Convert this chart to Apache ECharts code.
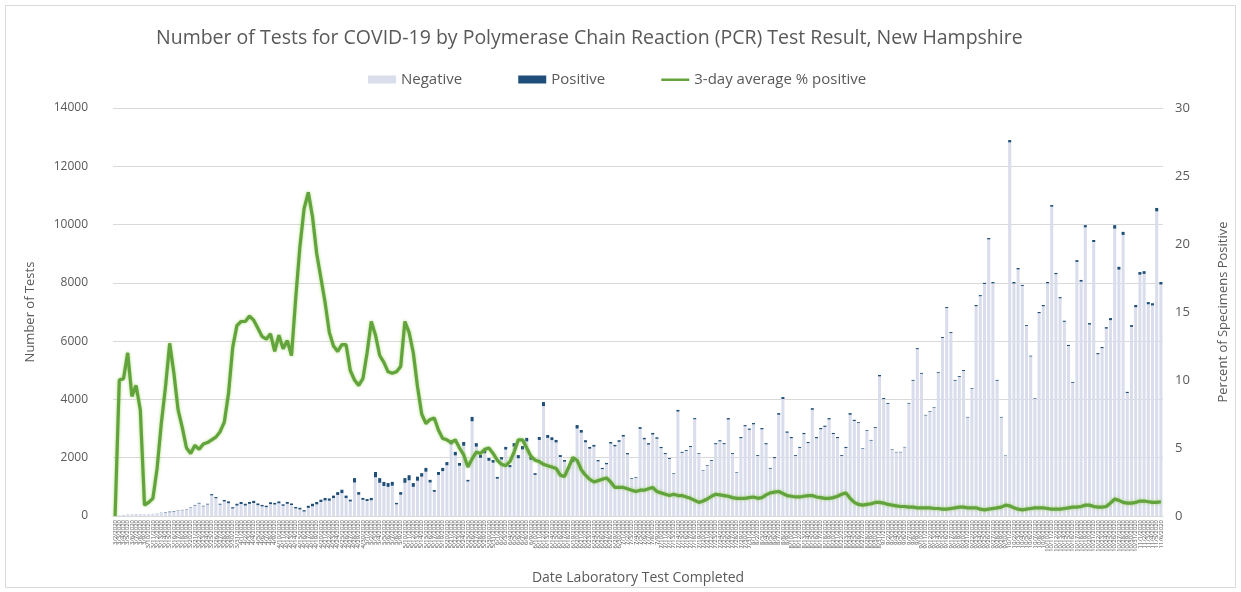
<!DOCTYPE html>
<html>
<head>
<meta charset="utf-8">
<script src="https://cdn.jsdelivr.net/npm/echarts@6/dist/echarts.min.js"></script>
<style>html,body{margin:0;padding:0;background:#fff;}#c{width:1241px;height:592px;}</style>
</head>
<body>
<div id="c"></div>
<script>
// Categories: one per day starting 3/2/2020
const startDate = new Date(2020, 2, 2);
const dayCount = 250;
const categories = [];
for (let i = 0; i < dayCount; i++) {
  const d = new Date(startDate.getTime());
  d.setDate(d.getDate() + i);
  categories.push((d.getMonth() + 1) + '/' + d.getDate() + '/' + d.getFullYear());
}

// Total PCR tests per day (negative + positive)
const totalTests = [
  10,15,30,40,45,50,55,60,70,80,90,110,130,150,170,190,210,230,300,380,
  450,350,420,750,650,420,550,500,300,420,480,
  420,480,520,430,380,350,470,450,500,400,480,430,310,280,200,350,420,480,560,620,
  600,700,820,900,700,560,1300,820,620,580,620,1510,1300,1170,1130,1170,450,820,1300,1400,
  1130,1350,1470,1650,1240,890,1510,1650,1850,2600,
  2200,1820,2540,1240,3400,2500,2100,2260,1990,1920,
  1340,2020,2370,1750,2500,2090,2400,2680,2020,1470,
  2710,3910,2780,2700,2610,2090,1920,1680,1920,3120,
  2950,2600,2370,2440,1920,1650,1820,2540,2440,2600,
  2780,2160,1300,1340,3050,2680,2500,2850,2700,2370,
  2160,1990,1470,3640,2200,2260,2400,3360,2160,1580,
  1750,1920,2500,2600,2500,3360,2160,1510,2710,3120,
  3000,3190,2090,3020,2500,1650,2020,3530,4080,2900,
  2710,2090,2370,2850,2540,
  3700,2710,3020,3100,3360,2850,2710,2090,2370,3530,
  3300,3220,2330,2950,2610,3050,4840,4050,3880,2300,
  2200,2200,2370,3880,4670,5760,4910,3470,3600,3740,
  4940,6140,7170,6310,4670,4800,5010,3400,4390,7240,
  7580,8000,9540,8030,4670,3400,2090,12900,8030,8510,
  7930,6550,5500,4050,7000,7240,8030,10670,8340,7510,
  6700,5870,4600,8780,8100,9980,6620,9470,5590,5800,
  6480,6790,9980,8550,9750,4260,6550,7240,8370,8400,
  7340,7300,10570,8030
];

// Positive PCR tests per day
const positiveTests = [
  0,2,3,5,4,5,4,0,1,1,3,8,14,20,18,12,10,11,14,19,
  23,18,24,42,40,30,50,60,42,60,68,
  60,62,75,58,50,45,62,55,64,50,62,52,50,55,45,70,85,80,80,85,
  75,85,100,115,85,60,150,90,65,65,80,180,160,140,130,130,50,90,160,175,
  130,140,120,130,90,60,100,110,110,140,
  120,95,130,55,150,120,100,105,95,90,
  60,80,90,75,120,110,115,120,90,60,
  100,140,100,95,85,65,55,55,70,120,
  90,70,60,60,45,40,45,55,50,55,
  55,45,25,25,60,50,50,55,50,40,
  35,30,22,55,32,30,32,40,25,18,
  22,28,38,38,36,50,30,20,38,40,
  42,45,30,45,40,28,35,55,65,45,
  40,30,34,40,38,
  55,40,42,42,45,38,38,30,38,55,
  40,28,20,25,24,30,48,38,32,18,
  16,15,16,25,30,35,30,20,21,20,
  27,32,36,34,28,30,32,20,24,42,
  38,38,48,44,30,22,14,80,50,48,
  36,30,26,22,40,42,44,56,42,40,
  38,36,30,60,58,75,50,68,40,40,
  50,70,120,95,105,40,60,75,90,92,
  75,72,115,85
];

// 3-day average % positive
const pctPositive3Day = [
  0,10.0,10.1,12.0,8.8,9.6,7.8,0.8,1.0,1.3,3.5,6.8,9.5,12.7,10.5,7.8,6.5,5.0,4.6,5.2,
  4.9,5.3,5.4,5.6,5.8,6.2,6.9,9.0,12.4,14.0,14.3,14.3,14.7,14.4,13.8,13.2,13.0,13.4,12.1,13.3,
  12.3,12.9,11.8,16.0,19.8,22.6,23.8,22.0,19.3,17.5,15.7,13.5,12.5,12.1,12.6,12.6,10.7,10.0,9.6,10.1,
  12.0,14.3,13.3,11.8,11.3,10.6,10.5,10.6,11.0,14.3,13.5,12.0,9.5,7.5,6.8,7.1,7.2,6.3,5.7,5.6,
  5.4,5.6,5.0,4.5,3.6,4.2,4.7,4.6,4.9,5.0,4.6,4.1,3.8,3.7,4.0,4.7,5.6,5.6,5.0,4.4,
  4.1,4.0,3.8,3.7,3.6,3.5,3.0,2.9,3.6,4.3,4.1,3.4,3.0,2.7,2.5,2.6,2.7,2.8,2.5,2.1,
  2.1,2.1,2.0,1.9,1.8,1.9,1.9,2.0,2.1,1.8,1.7,1.6,1.5,1.6,1.5,1.5,1.4,1.3,1.15,1.0,
  1.1,1.25,1.45,1.6,1.55,1.5,1.45,1.35,1.3,1.3,1.3,1.35,1.4,1.3,1.35,1.55,1.7,1.75,1.8,1.65,
  1.5,1.45,1.4,1.4,1.45,1.5,1.5,1.4,1.35,1.3,1.3,1.35,1.45,1.6,1.7,1.3,1.0,0.85,0.8,0.85,
  0.9,1.0,1.0,0.95,0.85,0.8,0.75,0.7,0.7,0.65,0.65,0.6,0.6,0.6,0.6,0.55,0.55,0.5,0.5,0.55,
  0.6,0.65,0.65,0.6,0.6,0.6,0.5,0.45,0.5,0.55,0.6,0.65,0.8,0.75,0.6,0.5,0.45,0.5,0.55,0.6,
  0.6,0.6,0.55,0.5,0.5,0.5,0.55,0.6,0.65,0.65,0.7,0.8,0.8,0.7,0.65,0.65,0.7,0.95,1.25,1.15,
  1.0,0.95,0.95,1.0,1.1,1.1,1.05,1.0,1.0,1.05
];

const leftTicks = { min: 0, max: 14000, interval: 2000 };
const rightTicks = { min: 0, max: 30, interval: 5 };

const negativeTests = totalTests.map((t, i) => t - positiveTests[i]);

const chart = echarts.init(document.getElementById('c'), null, { renderer: 'canvas' });
const txt = '#595959';
const font = 'Open Sans';
const green = '#62A33E';

chart.setOption({
  backgroundColor: '#ffffff',
  animation: false,
  textStyle: { fontFamily: font },
  graphic: [{
    type: 'rect',
    shape: { x: 5.5, y: 5.5, width: 1230, height: 582 },
    style: { fill: 'none', stroke: '#D9D9D9', lineWidth: 1 },
    silent: true
  }],
  title: {
    text: 'Number of Tests for COVID-19 by Polymerase Chain Reaction (PCR) Test Result, New Hampshire',
    left: 151,
    top: 23,
    textStyle: { color: txt, fontSize: 19.5, fontWeight: 'normal', fontFamily: font }
  },
  legend: {
    left: 363,
    top: 67,
    itemGap: 56,
    itemWidth: 28,
    itemHeight: 8,
    textStyle: { color: txt, fontSize: 15, fontFamily: font },
    data: [
      { name: 'Negative', icon: 'rect' },
      { name: 'Positive', icon: 'rect' },
      { name: '3-day average % positive',
        icon: 'path://M0,0 L28,0 L28,0.05 L0,0.05 Z M0,3 L28,3 L28,5.4 L0,5.4 Z M0,7.95 L28,7.95 L28,8 L0,8 Z',
        itemStyle: { color: green } }
    ]
  },
  grid: { left: 113, right: 78, top: 108, bottom: 76 },
  xAxis: {
    type: 'category',
    data: categories,
    name: 'Date Laboratory Test Completed',
    nameLocation: 'middle',
    nameGap: 55,
    nameTextStyle: { color: txt, fontSize: 14, fontFamily: font },
    axisLine: { show: true, lineStyle: { color: '#D9D9D9' } },
    axisTick: { show: false },
    axisLabel: { interval: 0, rotate: 90, fontSize: 6, color: '#4a4a4a', margin: 4, fontFamily: font }
  },
  yAxis: [
    {
      type: 'value',
      min: leftTicks.min, max: leftTicks.max, interval: leftTicks.interval,
      name: 'Number of Tests',
      nameLocation: 'middle',
      nameGap: 76,
      nameTextStyle: { color: txt, fontSize: 13, fontFamily: font },
      axisLine: { show: false },
      axisTick: { show: false },
      axisLabel: { color: txt, fontSize: 12, margin: 25, formatter: v => String(v) },
      splitLine: { lineStyle: { color: '#D9D9D9', width: 1 } }
    },
    {
      type: 'value',
      min: rightTicks.min, max: rightTicks.max, interval: rightTicks.interval,
      name: 'Percent of Specimens Positive',
      nameLocation: 'middle',
      nameGap: 54,
      nameRotate: 90,
      nameTextStyle: { color: txt, fontSize: 13, fontFamily: font },
      axisLine: { show: false },
      axisTick: { show: false },
      axisLabel: { color: txt, fontSize: 13, margin: 12 },
      splitLine: { show: false }
    }
  ],
  series: [
    {
      name: 'Negative',
      type: 'bar',
      stack: 'tests',
      data: negativeTests,
      barWidth: '72%',
      itemStyle: { color: '#D9DDEC' }
    },
    {
      name: 'Positive',
      type: 'bar',
      stack: 'tests',
      data: positiveTests,
      barWidth: '72%',
      itemStyle: { color: '#1F4E79' }
    },
    {
      name: '3-day average % positive',
      type: 'line',
      yAxisIndex: 1,
      data: pctPositive3Day,
      symbol: 'none',
      z: 5,
      lineStyle: { color: green, width: 3.2, shadowColor: 'rgba(146,208,80,0.8)', shadowBlur: 3 },
      itemStyle: { color: green }
    }
  ]
});
</script>
</body>
</html>
